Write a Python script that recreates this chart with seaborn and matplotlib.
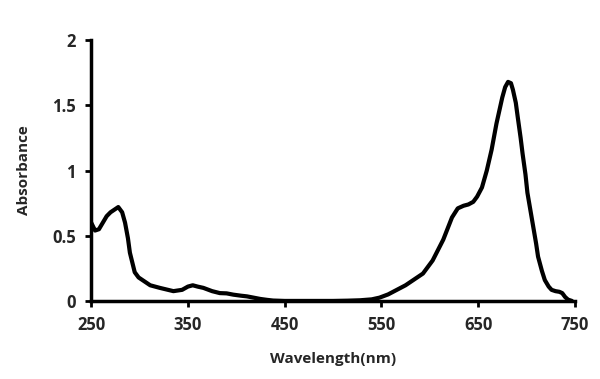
import seaborn as sns
import matplotlib.pyplot as plt
import pandas as pd

# spectrum
wavelength = [250, 254, 258, 262, 266, 270, 274, 278, 282, 285, 288, 290, 293, 295, 299,
              303, 311, 321, 335, 344, 350, 355, 360, 366, 375, 383, 390, 397, 405, 411,
              418, 425, 432, 438, 450, 470, 500, 515, 528, 540, 548, 557, 566, 575, 583,
              593, 603, 614, 623, 629, 635, 640, 645, 649, 654, 659, 664, 669, 675, 678,
              681, 684, 686, 689, 691, 694, 696, 699, 701, 704, 707, 710, 712, 716, 719,
              723, 726, 730, 734, 737, 740, 743, 747]
absorbance = [0.60, 0.54, 0.55, 0.60, 0.65, 0.68, 0.70, 0.72, 0.68, 0.60, 0.48, 0.37, 0.28, 0.22, 0.18,
              0.16, 0.12, 0.10, 0.075, 0.085, 0.11, 0.12, 0.11, 0.10, 0.075, 0.06, 0.058, 0.048, 0.04, 0.035,
              0.025, 0.015, 0.008, 0.003, 0.0, 0.0, 0.0, 0.002, 0.005, 0.012, 0.025, 0.05, 0.085, 0.12, 0.16,
              0.21, 0.31, 0.47, 0.64, 0.71, 0.73, 0.74, 0.76, 0.80, 0.87, 1.00, 1.16, 1.36, 1.56, 1.64,
              1.68, 1.67, 1.62, 1.52, 1.41, 1.25, 1.13, 0.97, 0.83, 0.70, 0.57, 0.44, 0.34, 0.23, 0.16,
              0.11, 0.085, 0.075, 0.07, 0.06, 0.03, 0.01, 0.0]

df = pd.DataFrame({'nm': wavelength, 'abs': absorbance})

sns.set_style('ticks')
plt.rcParams['font.family'] = ['Open Sans', 'DejaVu Sans']
plt.rcParams['font.weight'] = 'bold'

fig = plt.figure(figsize=(6, 3.79), dpi=100)
ax = fig.add_axes([0.152, 0.206, 0.806, 0.688])
sns.lineplot(data=df, x='nm', y='abs', color='black', linewidth=3, ax=ax)

ax.set_xlim(250, 750)
ax.set_ylim(0, 2)
ax.set_xticks([250, 350, 450, 550, 650, 750])
ax.set_yticks([0, 0.5, 1, 1.5, 2])
ax.set_yticklabels(['0', '0.5', '1', '1.5', '2'])
ax.set_xlabel('Wavelength(nm)', fontsize=11, fontweight='bold', labelpad=13)
ax.set_ylabel('Absorbance', fontsize=11, fontweight='bold', labelpad=15)
ax.tick_params(labelsize=12, length=4, width=2, direction='out', pad=7, color='black')
for lbl in ax.get_xticklabels() + ax.get_yticklabels():
    lbl.set_fontweight('bold')
sns.despine(ax=ax)
for s in ['left', 'bottom']:
    ax.spines[s].set_linewidth(2.5)
    ax.spines[s].set_color('black')

fig.savefig('out.png', dpi=100)
